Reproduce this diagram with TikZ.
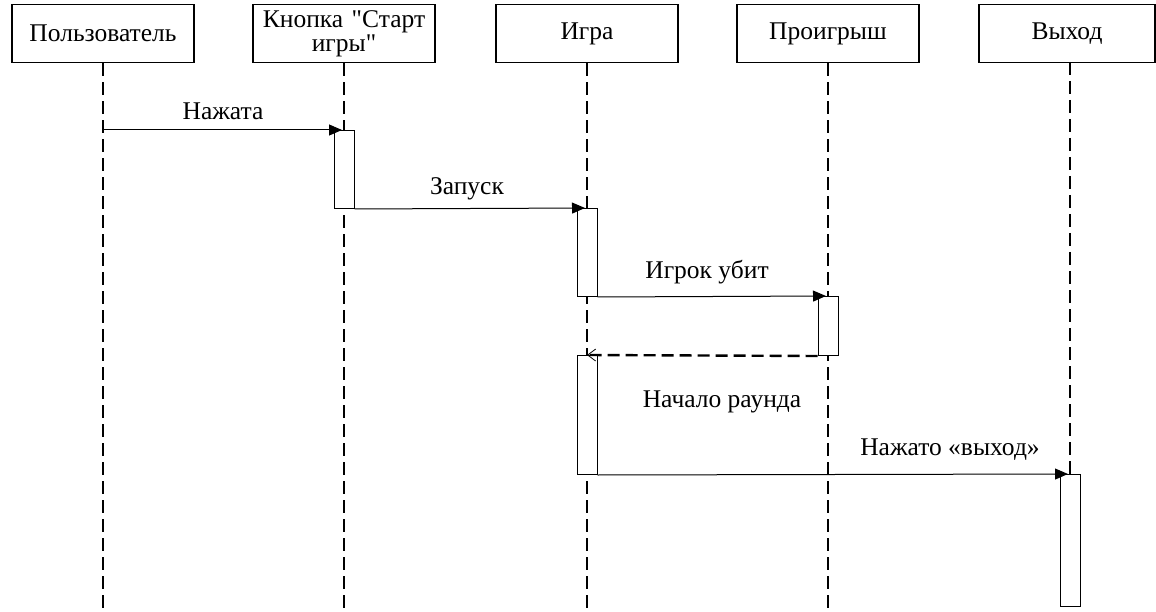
\documentclass[tikz,border=0pt]{standalone}
\usepackage{fontspec}
\setmainfont{Liberation Serif}[Ligatures=TeXOff]
\usetikzlibrary{arrows.meta}
\begin{document}
\begin{tikzpicture}[x=1pt,y=-1pt,
  head/.style={draw,line width=1.2pt,fill=white,minimum width=182pt,minimum height=58pt,
    inner sep=0pt,font=\fontsize{25.5}{25}\selectfont,anchor=north},
  life/.style={line width=2.8pt,dash pattern=on 13pt off 6pt},
  act/.style={draw,line width=1pt,fill=white,minimum width=20pt,inner sep=0pt,anchor=north},
  msg/.style={line width=1pt,shorten >=2pt,-{Triangle[length=13pt,width=11pt]}},
  ret/.style={line width=2.4pt,dash pattern=on 12pt off 6pt,-{Straight Barb[length=8pt,width=12pt,line width=0.8pt]}},
  lbl/.style={font=\fontsize{25.5}{25}\selectfont}]
\useasboundingbox (0,0) rectangle (1156,612);

% participants
\node[head] (p1) at (103,4) {Пользователь};
\node[head,align=center,text width=180pt] (p2) at (344,4) {Кнопка "Старт\\[-1pt] игры"};
\node[head] (p3) at (587,4) {Игра};
\node[head] (p4) at (828,4) {Проигрыш};
\node[head,minimum width=176pt] (p5) at (1067,4) {Выход};

% lifeline ends
\coordinate (e1) at (103,612);
\coordinate (e2) at (344,612);
\coordinate (e3) at (587,612);
\coordinate (e4) at (828,612);
\coordinate (e5) at (1070,612);
\coordinate (t5) at (1070,62);

\draw[life] (p1.south) -- (e1);
\draw[life] (p2.south) -- (e2);
\draw[life] (p3.south) -- (e3);
\draw[life] (p4.south) -- (e4);
\draw[life] (t5) -- (e5);

% activations
\node[act,minimum height=78pt] (a1) at (344,130) {};
\node[act,minimum height=88pt] (a2) at (587,208) {};
\node[act,minimum height=59pt] (a3) at (828,296) {};
\node[act,minimum height=119pt] (a4) at (587,355) {};
\node[act,minimum height=132pt] (a5) at (1070,474) {};

% messages
\coordinate (s1) at (103,130);
\draw[msg] (s1) -- (a1.north);
\node[lbl] (m1) at (223,111) {Нажата};

\draw[msg] (a1.south east) -- (a2.north);
\node[lbl] (m2) at (467,189) {Запуск};

\draw[msg] (a2.south east) -- (a3.north);
\node[lbl] (m3) at (707,272) {Игрок убит};

\draw[ret] (a3.south west) -- (a4.north);
\node[lbl] (m4) at (722,402) {Начало раунда};

\draw[msg] (a4.south east) -- (a5.north);
\node[lbl] (m5) at (950,450) {Нажато «выход»};
\end{tikzpicture}
\end{document}
